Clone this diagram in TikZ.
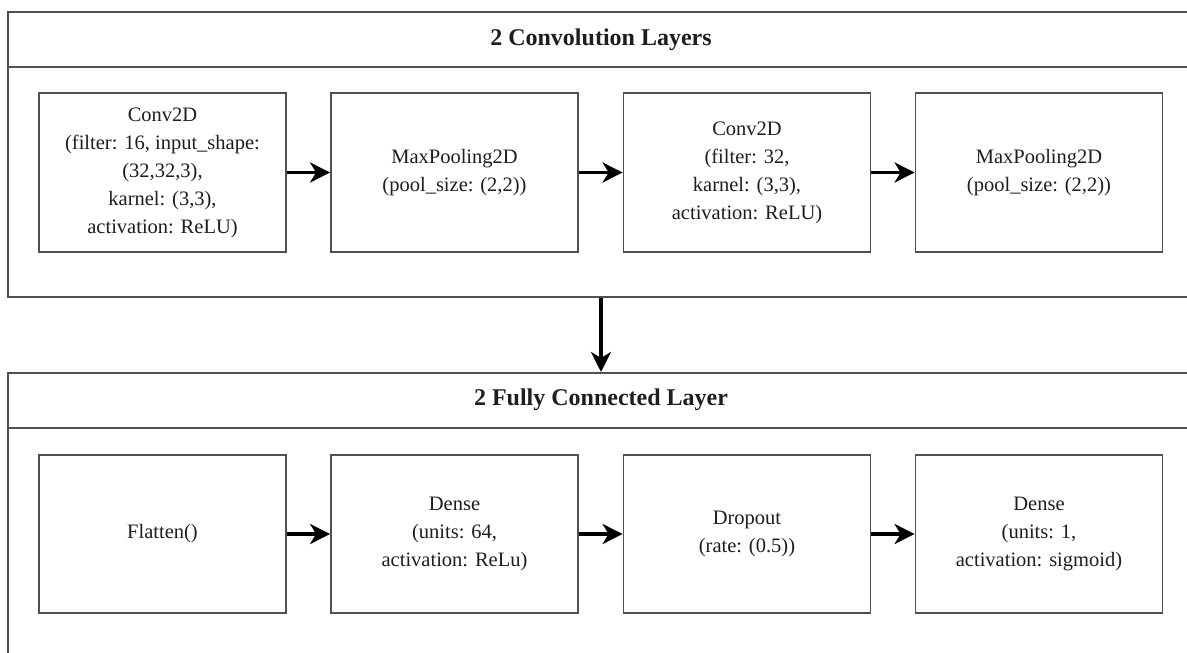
\documentclass[tikz,border=0pt]{standalone}
\usepackage{fontspec}
\setmainfont{Liberation Serif}
\usetikzlibrary{arrows.meta}
\definecolor{edge}{HTML}{505050}
\definecolor{ink}{HTML}{1E1E1E}
\begin{document}
\begin{tikzpicture}[x=1pt,y=-1pt,
  container/.style={draw=edge, line width=2pt, rectangle, inner sep=0pt},
  layerbox/.style={draw=edge, line width=1.8pt, rectangle, inner sep=0pt,
    minimum width=247pt, minimum height=159pt, align=center, text=ink,
    font=\fontsize{20.5}{28}\selectfont},
  heading/.style={text=ink, font=\fontsize{24}{28}\selectfont\bfseries},
  flow/.style={line width=3.8pt, black,
    -{Stealth[length=20pt,width=20pt,inset=6pt]}},
  sep/.style={draw=edge, line width=2pt}]
\useasboundingbox (0,0) rectangle (1187,653);
\fill[white] (0,0) rectangle (1187,653);

% containers
\node[container, minimum width=1186pt, minimum height=285pt] (conv) at (601,154.5) {};
\node[container, minimum width=1186pt, minimum height=327pt] (fc) at (601,536.5) {};
\draw[sep] (8,67) -- (1194,67);
\draw[sep] (8,428) -- (1194,428);
\node[heading] (convtitle) at (601,40) {2 Convolution Layers};
\node[heading] (fctitle) at (601,400) {2 Fully Connected Layer};

% convolution stage
\node[layerbox] (c1) at (162.5,172.5) {Conv2D\\(filter: 16, input\_shape:\\(32,32,3),\\karnel: (3,3),\\activation: ReLU)};
\node[layerbox] (p1) at (454.5,172.5) {MaxPooling2D\\(pool\_size: (2,2))};
\node[layerbox] (c2) at (747,172.5) {Conv2D\\(filter: 32,\\karnel: (3,3),\\activation: ReLU)};
\node[layerbox] (p2) at (1039,172.5) {MaxPooling2D\\(pool\_size: (2,2))};

% fully connected stage
\node[layerbox, minimum height=158pt] (fl) at (162.5,534) {Flatten()};
\node[layerbox, minimum height=158pt] (d1) at (454.5,534) {Dense\\(units: 64,\\activation: ReLu)};
\node[layerbox, minimum height=158pt] (dr) at (747,534) {Dropout\\(rate: (0.5))};
\node[layerbox, minimum height=158pt] (d2) at (1039,534) {Dense\\(units: 1,\\activation: sigmoid)};

% connectors
\draw[flow] (c1) -- (p1);
\draw[flow] (p1) -- (c2);
\draw[flow] (c2) -- (p2);
\draw[flow] (fl) -- (d1);
\draw[flow] (d1) -- (dr);
\draw[flow] (dr) -- (d2);
\draw[flow] (conv.south) -- (fc.north);
\end{tikzpicture}
\end{document}
